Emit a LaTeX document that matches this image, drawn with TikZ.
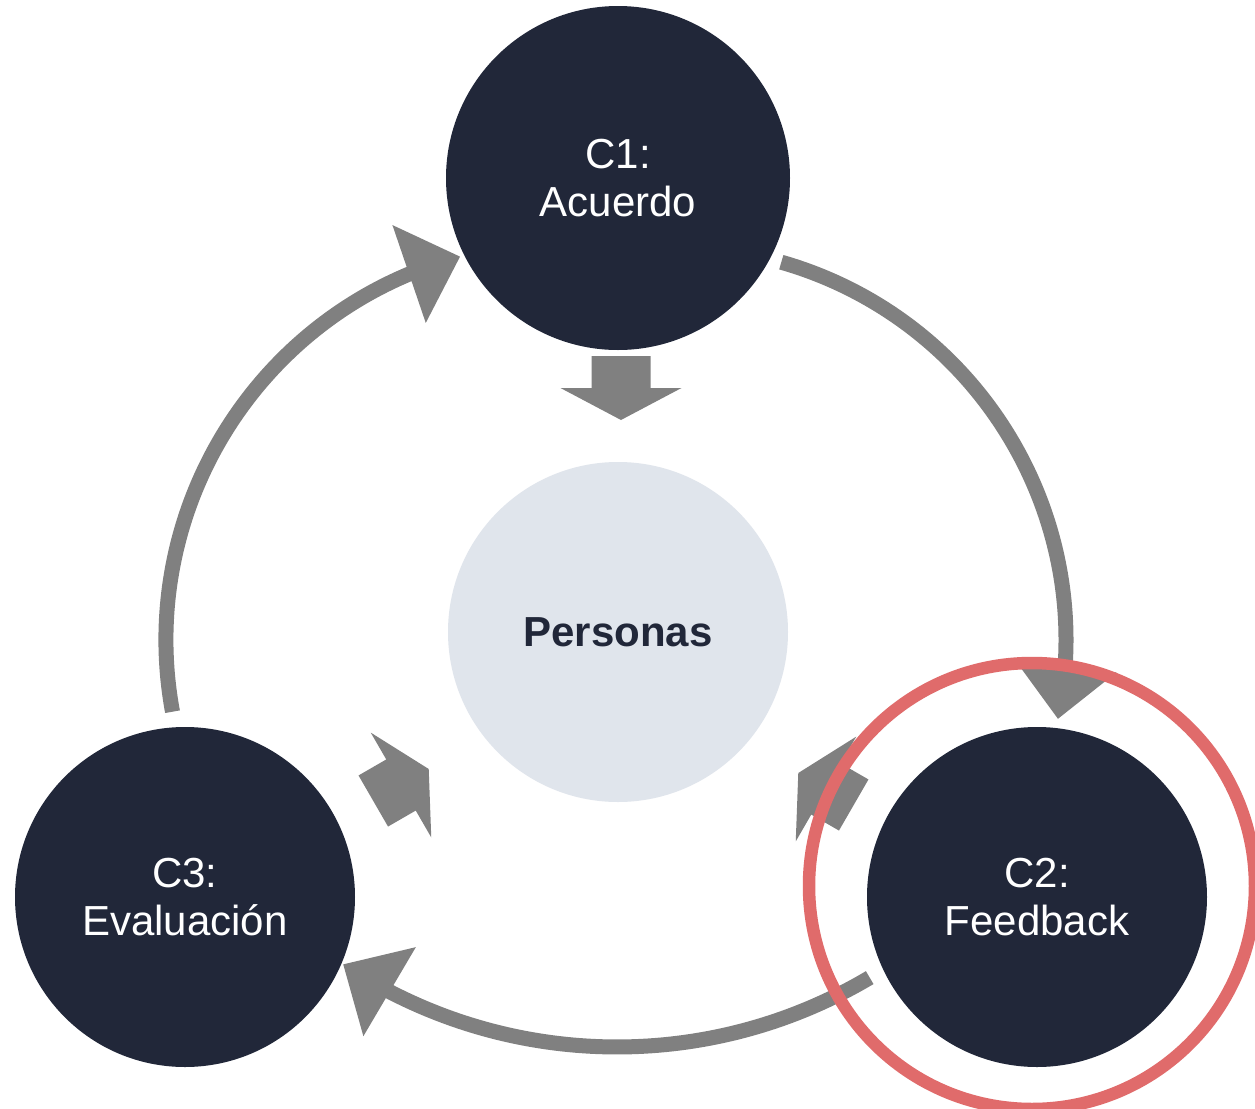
\documentclass[tikz,border=0pt]{standalone}
\usepackage{fontspec}
\setmainfont{Liberation Sans}
\usetikzlibrary{arrows.meta,bending}
\definecolor{navy}{HTML}{212739}
\definecolor{mist}{HTML}{E0E5EC}
\definecolor{arrowgray}{HTML}{808080}
\definecolor{ring}{HTML}{E06B6B}

\begin{document}
\begin{tikzpicture}[x=0.5pt,y=-0.5pt,
  stage/.style={circle, fill=navy, text=white, minimum size=170pt, inner sep=0pt,
    align=center, font=\fontsize{21}{24.2}\selectfont},
  core/.style={circle, fill=mist, text=navy, minimum size=170pt, inner sep=0pt,
    font=\fontsize{21}{24.2}\selectfont\bfseries},
  flow/.style={draw=arrowgray, line width=7.5pt, -{Triangle[width=50pt,length=27pt]}},
  blockarrow/.pic={
    \fill[arrowgray] (-32,-29.5) -- (0,-29.5) -- (0,-60.5) -- (32,0)
      -- (0,60.5) -- (0,29.5) -- (-32,29.5) -- cycle;
  }
]
\clip (0,0) rectangle (1255,1109);
\fill[white] (0,0) rectangle (1255,1109);

% the three stages around the centre
\node[stage, minimum size=172pt] (c1) at (618,178) {C1:\\Acuerdo};
\node[core] (p) at (618,632) {Personas};
\node[stage] (c3) at (185,897) {C3:\\Evaluación};
\node[stage] (c2) at (1037,897) {C2:\\Feedback};

% cycle: C1 -> C2 -> C3 -> C1
\coordinate (c1out) at (781.3,262.2);
\draw[flow] (c1out) arc[start angle=-74, end angle=11.6, radius=393];
\coordinate (c2out) at (869.7,977.6);
\draw[flow] (c2out) arc[start angle=59.3, end angle=123.6, radius=495];
\coordinate (c3out) at (172.5,711.7);
\draw[flow] (c3out) arc[start angle=169.6, end angle=255, radius=397];

% block arrows pointing to the centre
\pic[rotate=-90] at (621,388) {blockarrow};
\pic[rotate=30] at (401,785) {blockarrow};
\pic[rotate=150] at (826,789) {blockarrow};

% highlight ring around C2
\draw[ring, line width=6.25pt] (1032,886) circle[radius=223];
\end{tikzpicture}
\end{document}
